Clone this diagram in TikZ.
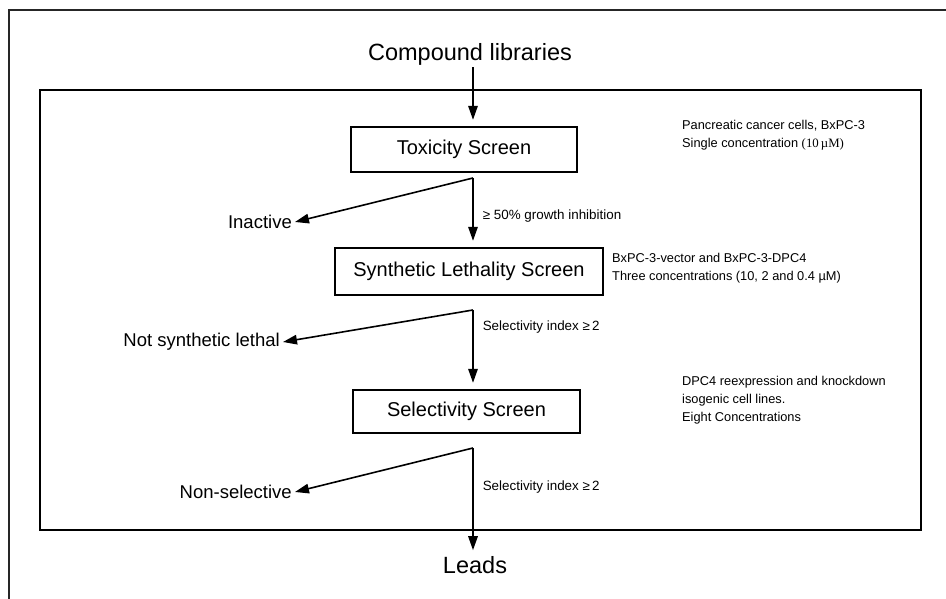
\documentclass[tikz,border=0pt]{standalone}
\usepackage{fontspec}
\setmainfont{Liberation Sans}
\newfontfamily\timesfont{Liberation Serif}
\usetikzlibrary{arrows.meta}
\begin{document}
\begin{tikzpicture}[
	x=1pt, y=-1pt, % page units, y runs downwards
	% Style for the screening steps
	stage box/.style={
		draw,
		line width=2.4pt,
		minimum height=45pt,
		inner sep=0pt,
		font=\fontsize{20}{24}\selectfont
	},
	% Style for the start and end labels
	end text/.style={
		inner sep=2pt,
		font=\fontsize{23.5}{28}\selectfont
	},
	% Style for the rejected compounds
	reject/.style={
		inner sep=3pt,
		font=\fontsize{18.5}{22}\selectfont
	},
	% Style for the side notes
	note/.style={
		align=left,
		anchor=west,
		inner sep=0pt,
		font=\fontsize{12.8}{18}\selectfont
	},
	% Style for the criteria on the arrows
	criterion/.style={
		anchor=west,
		inner sep=0pt,
		font=\fontsize{13.4}{16}\selectfont
	},
	% Style for the arrows
	flow/.style={
		draw,
		line width=1.6pt,
		-{Triangle[length=14pt,width=9.5pt]}
	}
	]
	
	\useasboundingbox (0,0) rectangle (946,599);
	
	% 1. Frames
	\draw[line width=1.2pt, black!85] (9,599) -- (9,10) -- (946,10);
	\draw[line width=1.3pt] (40,90) rectangle (921,530);
	
	% 2. Start, stages and end
	\node[end text] (lib) at (470,54) {Compound libraries};
	
	\node[stage box, minimum width=226pt] (tox) at (464,149.5) {Toxicity Screen};
	\node[stage box, minimum width=268pt, minimum height=47pt] (synth) at (469,271.5) {Synthetic Lethality Screen};
	\node[stage box, minimum width=227pt, minimum height=43pt] (sel) at (466.5,411.5) {Selectivity Screen};
	
	\node[end text] (leads) at (475,565) {Leads};
	
	% 3. Side notes
	\node[note] (toxnote) at (682,135) {Pancreatic cancer cells, BxPC-3\\Single concentration {\timesfont(10\,µM)}};
	\node[note] (synthnote) at (612,268) {BxPC-3-vector and BxPC-3-DPC4\\Three concentrations (10, 2 and 0.4 µM)};
	\node[note] (selnote) at (682,400) {DPC4 reexpression and knockdown\\isogenic cell lines.\\Eight Concentrations};
	
	% 4. Rejected compounds
	\node[reject, anchor=east] (inactive) at (295,222) {Inactive};
	\node[reject, anchor=east] (notlethal) at (283,342) {Not synthetic lethal};
	\node[reject, anchor=east] (nonsel) at (295,492) {Non-selective};
	
	% Branch points below each stage
	\coordinate (fork1) at (473,178);
	\coordinate (fork2) at (473,310);
	\coordinate (fork3) at (473,448);
	
	% 5. Arrows
	\draw[flow, shorten >=6pt] (lib.south -| fork1) -- (tox.north -| fork1);
	
	\draw[flow] (fork1) -- (inactive.east);
	\draw[flow, shorten >=6pt] (fork1) -- node[criterion, pos=0.55, xshift=9pt] (crit1) {≥ 50\% growth inhibition} (synth.north -| fork1);
	
	\draw[flow] (fork2) -- (notlethal.east);
	\draw[flow, shorten >=6pt] (fork2) -- node[criterion, pos=0.22, xshift=9pt] (crit2) {Selectivity index ≥\,2} (sel.north -| fork2);
	
	\draw[flow] (fork3) -- (nonsel.east);
	\draw[flow, shorten >=4pt] (fork3) -- node[criterion, pos=0.37, xshift=9pt] (crit3) {Selectivity index ≥\,2} (leads.north -| fork3);
	
\end{tikzpicture}
\end{document}
